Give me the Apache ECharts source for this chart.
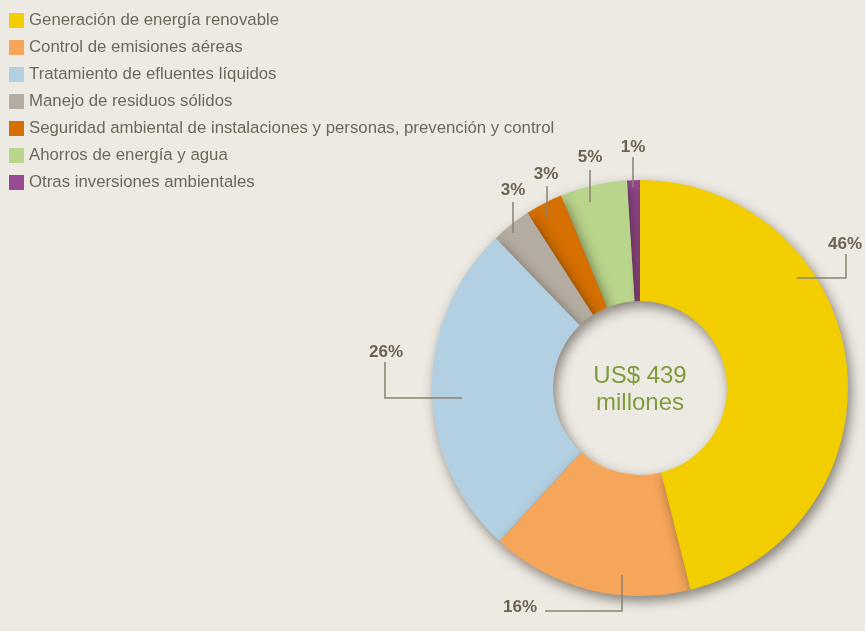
<!DOCTYPE html>
<html>
<head>
<meta charset="utf-8">
<script src="https://cdn.jsdelivr.net/npm/echarts@6/dist/echarts.min.js"></script>
<style>
html,body{margin:0;padding:0;background:#edeae3;}
#chart{width:865px;height:631px;}
</style>
</head>
<body>
<div id="chart"></div>
<script>
// Data
var categories = [
  'Generación de energía renovable',
  'Control de emisiones aéreas',
  'Tratamiento de efluentes líquidos',
  'Manejo de residuos sólidos',
  'Seguridad ambiental de instalaciones y personas, prevención y control',
  'Ahorros de energía y agua',
  'Otras inversiones ambientales'
];
var shares = [46.1, 15.7, 26.0, 3.1, 2.9, 5.2, 1.0];
var centerTitle = 'US$ 439\nmillones';

// Styling
var colors = ['#f2cd00', '#f5a65a', '#b3d0e3', '#b5aca1', '#d46f00', '#b9d48b', '#9a4a95'];
// label anchor (text centre) and guide-line points per category, in pixels
var labelGuides = [
  {pos: [845, 244], line: [[797, 278], [846, 278], [846, 254]]},
  {pos: [520, 607], line: [[622, 575], [622, 611], [545, 611]]},
  {pos: [386, 352], line: [[462, 398], [385, 398], [385, 362]]},
  {pos: [513, 190], line: [[513, 233], [513, 218], [513, 202]]},
  {pos: [546, 174], line: [[547, 218], [547, 200], [547, 186]]},
  {pos: [590, 157], line: [[590, 202], [590, 185], [590, 170]]},
  {pos: [633, 147], line: [[633, 187], [633, 170], [633, 157]]}
];

// draw in reverse order (counter-clockwise) so the first slice lies on top
var order = categories.map(function (c, i) { return i; }).reverse();
var fontFam = 'Liberation Sans, Arial, sans-serif';

function buildData(withColor) {
  return order.map(function (i) {
    return {
      name: categories[i],
      value: shares[i],
      itemStyle: {color: withColor ? colors[i] : 'rgba(0,0,0,0)'}
    };
  });
}

var chart = echarts.init(document.getElementById('chart'));
chart.setOption({
  backgroundColor: '#edeae3',
  animation: false,
  title: {
    text: centerTitle,
    left: 640,
    top: 363,
    padding: 0,
    textAlign: 'center',
    textStyle: {
      color: '#7f9c3c',
      fontFamily: fontFam,
      fontWeight: 'normal',
      fontSize: 24,
      lineHeight: 27
    }
  },
  legend: {
    orient: 'vertical',
    left: 9,
    top: 12,
    padding: 0,
    itemWidth: 15,
    itemHeight: 15,
    itemGap: 10,
    icon: 'rect',
    selectedMode: false,
    textStyle: {
      color: '#6e675b',
      fontFamily: fontFam,
      fontSize: 16.8,
      lineHeight: 16
    },
    data: categories
  },
  series: [{
    type: 'pie',
    z: 2,
    center: [640, 388],
    radius: [87, 208],
    startAngle: 90,
    clockwise: false,
    silent: true,
    emphasis: {disabled: true},
    itemStyle: {
      shadowBlur: 12,
      shadowOffsetX: 3,
      shadowOffsetY: 5,
      shadowColor: 'rgba(30,20,10,0.5)'
    },
    label: {show: false},
    labelLine: {show: false},
    data: buildData(true)
  }, {
    type: 'pie',
    z: 4,
    center: [640, 388],
    radius: [87, 208],
    startAngle: 90,
    clockwise: false,
    silent: true,
    legendHoverLink: false,
    avoidLabelOverlap: false,
    percentPrecision: 0,
    emphasis: {disabled: true},
    label: {
      show: true,
      position: 'outside',
      formatter: '{d}%',
      color: '#6b6250',
      fontFamily: fontFam,
      fontWeight: 'bold',
      fontSize: 17
    },
    labelLine: {
      show: true,
      lineStyle: {color: '#8a8272', width: 1.5}
    },
    labelLayout: function (p) {
      var g = labelGuides[order[p.dataIndex]];
      return {
        x: g.pos[0],
        y: g.pos[1],
        align: 'center',
        verticalAlign: 'middle',
        labelLinePoints: g.line
      };
    },
    data: buildData(false)
  }]
});
</script>
</body>
</html>
